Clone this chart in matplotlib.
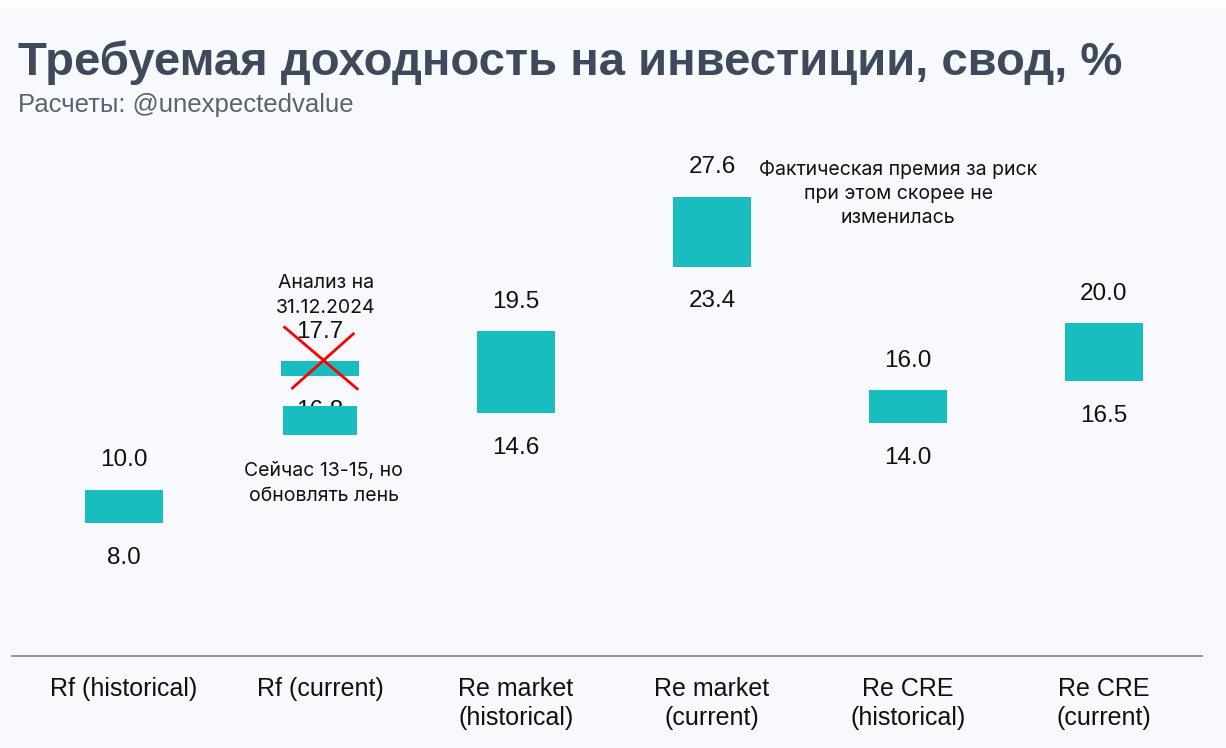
import matplotlib
matplotlib.use("Agg")
import matplotlib.pyplot as plt
from matplotlib.patches import Rectangle

categories = ["Rf (historical)", "Rf (current)", "Re market\n(historical)",
              "Re market\n(current)", "Re CRE\n(historical)", "Re CRE\n(current)"]
low_values = [8.0, 16.8, 14.6, 23.4, 14.0, 16.5]
high_values = [10.0, 17.7, 19.5, 27.6, 16.0, 20.0]
# updated Rf (current) range drawn over the crossed-out one
updated_low = 13.3
updated_high = 15.0

TEAL = "#19bcbf"
BG = "#f8f9fd"

fig = plt.figure(figsize=(12.26, 7.48), dpi=100, facecolor=BG)
fig.patches.append(Rectangle((0, 0.988), 1, 0.012, transform=fig.transFigure,
                             facecolor="white", edgecolor="none", zorder=0))
ax = fig.add_axes([12/1226, 1-656/748, 1190/1226, 516/748])
ax.set_facecolor(BG)
ax.set_xlim(-0.571, 5.5)
ax.set_ylim(0, 31)
for s in ["top", "right", "left"]:
    ax.spines[s].set_visible(False)
ax.spines["bottom"].set_color("#8a8a8a")
ax.spines["bottom"].set_linewidth(1.3)
ax.set_yticks([])
x = list(range(len(categories)))
ax.set_xticks(x)
ax.set_xticklabels(categories, fontsize=18, family="Liberation Sans", color="#111111",
                   linespacing=1.25)
ax.tick_params(axis="x", length=0, pad=15)

heights = [h - l for h, l in zip(high_values, low_values)]
ax.bar(x, heights, bottom=low_values, width=0.4, color=TEAL, zorder=2)

for xi, lo, hi in zip(x, low_values, high_values):
    ax.annotate(f"{hi:.1f}", (xi, hi), xytext=(0, 21), textcoords="offset points",
                ha="center", va="center", fontsize=17.5, family="Liberation Sans",
                color="#111111", zorder=1)
    ax.annotate(f"{lo:.1f}", (xi, lo), xytext=(0, -25), textcoords="offset points",
                ha="center", va="center", fontsize=17.5, family="Liberation Sans",
                color="#111111", zorder=1)

# updated bar hiding the old low label
ax.bar([1], [updated_high - updated_low], bottom=[updated_low], width=0.38,
       color=TEAL, zorder=3)

# red cross over the outdated bar
cx, cy = 1, (low_values[1] + high_values[1]) / 2
ax.plot([cx - 0.18, cx + 0.19], [cy + 2.5, cy - 1.2], color="red", lw=2.0, zorder=4)
ax.plot([cx + 0.17, cx - 0.14], [cy + 2.1, cy - 1.15], color="red", lw=2.0, zorder=4)

afont = dict(family="Inter", fontsize=14, color="#111111", ha="center", va="center",
             linespacing=1.45)
ax.text(1.03, 21.65, "Анализ на\n31.12.2024", **afont)
ax.text(1.02, 10.36, "Сейчас 13-15, но\nобновлять лень", **afont)
ax.text(3.95, 27.78, "Фактическая премия за риск\nпри этом скорее не\nизменилась", **afont)

fig.text(18/1226, 1-63/748, "Требуемая доходность на инвестиции, свод, %",
         fontsize=34, fontweight="bold", family="Liberation Sans", color="#3e4a5c",
         ha="left", va="center")
fig.text(18/1226, 1-105/748, "Расчеты: @unexpectedvalue", fontsize=18.5,
         family="Liberation Sans", color="#5a6270", ha="left", va="center")

fig.savefig("out.png", dpi=100, facecolor=BG)
